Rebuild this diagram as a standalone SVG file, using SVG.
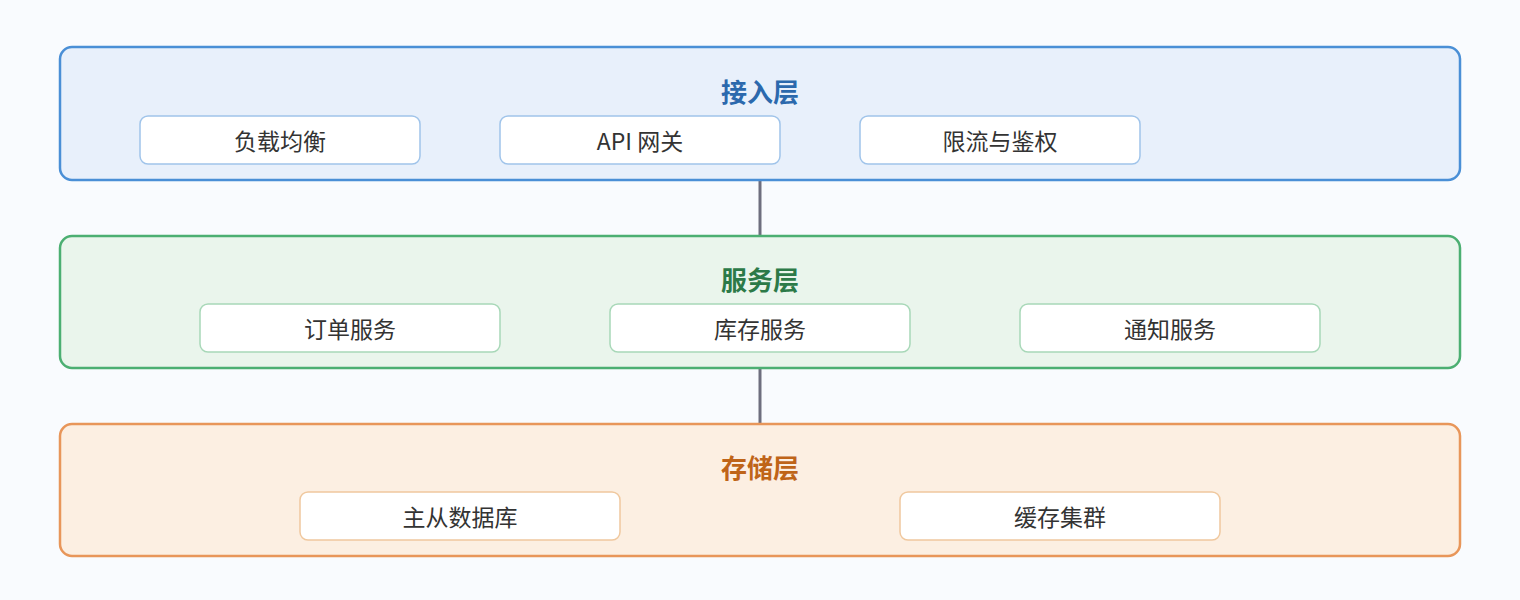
<svg xmlns="http://www.w3.org/2000/svg" width="1520" height="600" viewBox="0 0 1520 600">
<style>
text{font-family:"Noto Sans CJK SC","Liberation Sans",sans-serif;text-anchor:middle;dominant-baseline:central}
.t{font-size:26px;font-weight:bold}
.i{font-size:23px;fill:#333}
.box{fill:#fff;stroke-width:1.5}
.lay{stroke-width:2.5}
</style>
<rect width="1520" height="600" fill="#f9fbfe"/>
<g id="connectors" stroke="#6e6e7e" stroke-width="3">
<line x1="760" y1="180" x2="760" y2="236"/>
<line x1="760" y1="368" x2="760" y2="424"/>
</g>
<g id="access">
<rect class="lay" x="60" y="47" width="1400" height="133" rx="12" fill="#e8f0fb" stroke="#4a8fd6"/>
<text class="t" x="760" y="90" fill="#2b69ad">接入层</text>
<rect class="box" x="140" y="116" width="280" height="48" rx="8" stroke="#a0c4ea"/><text class="i" x="280" y="140">负载均衡</text>
<rect class="box" x="500" y="116" width="280" height="48" rx="8" stroke="#a0c4ea"/><text class="i" x="640" y="140">API 网关</text>
<rect class="box" x="860" y="116" width="280" height="48" rx="8" stroke="#a0c4ea"/><text class="i" x="1000" y="140">限流与鉴权</text>
</g>
<g id="service">
<rect class="lay" x="60" y="236" width="1400" height="132" rx="12" fill="#eaf5ec" stroke="#4caf72"/>
<text class="t" x="760" y="278" fill="#2c7a48">服务层</text>
<rect class="box" x="200" y="304" width="300" height="48" rx="8" stroke="#a8d8b8"/><text class="i" x="350" y="328">订单服务</text>
<rect class="box" x="610" y="304" width="300" height="48" rx="8" stroke="#a8d8b8"/><text class="i" x="760" y="328">库存服务</text>
<rect class="box" x="1020" y="304" width="300" height="48" rx="8" stroke="#a8d8b8"/><text class="i" x="1170" y="328">通知服务</text>
</g>
<g id="storage">
<rect class="lay" x="60" y="424" width="1400" height="132" rx="12" fill="#fcefe2" stroke="#e8965a"/>
<text class="t" x="760" y="466" fill="#bf6418">存储层</text>
<rect class="box" x="300" y="492" width="320" height="48" rx="8" stroke="#f0c89e"/><text class="i" x="460" y="516">主从数据库</text>
<rect class="box" x="900" y="492" width="320" height="48" rx="8" stroke="#f0c89e"/><text class="i" x="1060" y="516">缓存集群</text>
</g>
</svg>
